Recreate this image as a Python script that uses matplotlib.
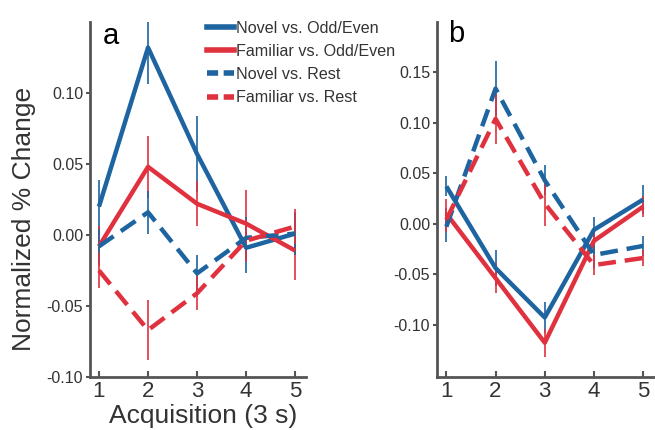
import matplotlib
matplotlib.use("Agg")
import matplotlib.pyplot as plt
from matplotlib.lines import Line2D

plt.rcParams['font.family'] = ['Liberation Sans', 'DejaVu Sans']

x = [1, 2, 3, 4, 5]

# Panel a
a_novel_oe = [0.020, 0.132, 0.057, -0.009, 0.001]
a_novel_oe_err = [0.019, 0.026, 0.027, 0.018, 0.014]
a_fam_oe = [-0.008, 0.048, 0.022, 0.008, -0.011]
a_fam_oe_err = [0.014, 0.022, 0.016, 0.024, 0.021]
a_novel_rest = [-0.008, 0.016, -0.027, -0.002, 0.001]
a_novel_rest_err = [0.012, 0.015, 0.013, 0.015, 0.015]
a_fam_rest = [-0.025, -0.067, -0.041, -0.004, 0.006]
a_fam_rest_err = [0.012, 0.021, 0.012, 0.015, 0.012]

# Panel b
b_novel_oe = [0.037, -0.044, -0.093, -0.006, 0.024]
b_novel_oe_err = [0.010, 0.018, 0.015, 0.013, 0.014]
b_fam_oe = [0.010, -0.054, -0.118, -0.017, 0.017]
b_fam_oe_err = [0.014, 0.015, 0.014, 0.013, 0.010]
b_novel_rest = [-0.003, 0.134, 0.043, -0.031, -0.022]
b_novel_rest_err = [0.015, 0.027, 0.015, 0.013, 0.010]
b_fam_rest = [0.004, 0.104, 0.020, -0.041, -0.034]
b_fam_rest_err = [0.012, 0.025, 0.022, 0.010, 0.008]

labels = ["Novel vs. Odd/Even", "Familiar vs. Odd/Even",
          "Novel vs. Rest", "Familiar vs. Rest"]

BLUE = '#1d64a0'
RED = '#e0313f'
SPINE = '#555555'
DASH = (0, (4, 2))

fig = plt.figure(figsize=(6.55, 4.30), dpi=100)
axa = fig.add_axes([90/655, 1-377/430, 216/655, 355/430])
axb = fig.add_axes([437/655, 1-377/430, 218/655, 355/430])


def draw(ax, series):
    for y, e, c, ls in series:
        ax.errorbar(x, y, yerr=e, color=c, lw=3.2, linestyle=ls,
                    elinewidth=1.2, capsize=0, solid_capstyle='butt',
                    dash_capstyle='butt')
    for s in ['top', 'right']:
        ax.spines[s].set_visible(False)
    for s in ['left', 'bottom']:
        ax.spines[s].set_color(SPINE)
        ax.spines[s].set_linewidth(2)
    ax.set_xticks(x)
    ax.tick_params(axis='x', direction='in', length=4, width=1.5,
                   color=SPINE, labelsize=16, labelcolor='#333333', pad=3)
    ax.tick_params(axis='y', direction='out', length=3, width=1.5,
                   color=SPINE, labelsize=11.5, labelcolor='#333333', pad=2)


draw(axa, [(a_novel_oe, a_novel_oe_err, BLUE, '-'),
           (a_fam_oe, a_fam_oe_err, RED, '-'),
           (a_novel_rest, a_novel_rest_err, BLUE, DASH),
           (a_fam_rest, a_fam_rest_err, RED, DASH)])
axa.set_xlim(0.817, 5.22)
axa.set_ylim(-0.10, 0.15)
axa.set_yticks([-0.10, -0.05, 0.00, 0.05, 0.10])
axa.set_yticklabels(['-0.10', '-0.05', '0.00', '0.05', '0.10'])

draw(axb, [(b_novel_oe, b_novel_oe_err, BLUE, '-'),
           (b_fam_oe, b_fam_oe_err, RED, '-'),
           (b_novel_rest, b_novel_rest_err, BLUE, DASH),
           (b_fam_rest, b_fam_rest_err, RED, DASH)])
axb.set_xlim(0.81, 5.24)
axb.set_ylim(-0.152, 0.20)
axb.set_yticks([-0.10, -0.05, 0.00, 0.05, 0.10, 0.15])
axb.set_yticklabels(['-0.10', '-0.05', '0.00', '0.05', '0.10', '0.15'])

fig.text(111/655, 1-36/430, 'a', fontsize=21, ha='center', va='center')
fig.text(456/655, 1-34/430, 'b', fontsize=21, ha='center', va='center')

fig.text(24/655, 1-219/430, 'Normalized % Change', fontsize=19,
         rotation=90, ha='center', va='center', color='#333333')
fig.text(203/655, 1-423/430, 'Acquisition (3 s)', fontsize=19,
         ha='center', va='baseline', color='#333333')

handles = [Line2D([], [], color=BLUE, lw=4),
           Line2D([], [], color=RED, lw=4),
           Line2D([], [], color=BLUE, lw=4, linestyle=(0, (2, 1))),
           Line2D([], [], color=RED, lw=4, linestyle=(0, (2, 1)))]
fig.legend(handles, labels, loc='upper left',
           bbox_to_anchor=(207/655, 1-21/430), frameon=False,
           fontsize=11.6, handlelength=1.7, handletextpad=0.12,
           labelspacing=0.5, borderpad=0, borderaxespad=0,
           labelcolor='#333333')

fig.savefig('out.png', dpi=100)
